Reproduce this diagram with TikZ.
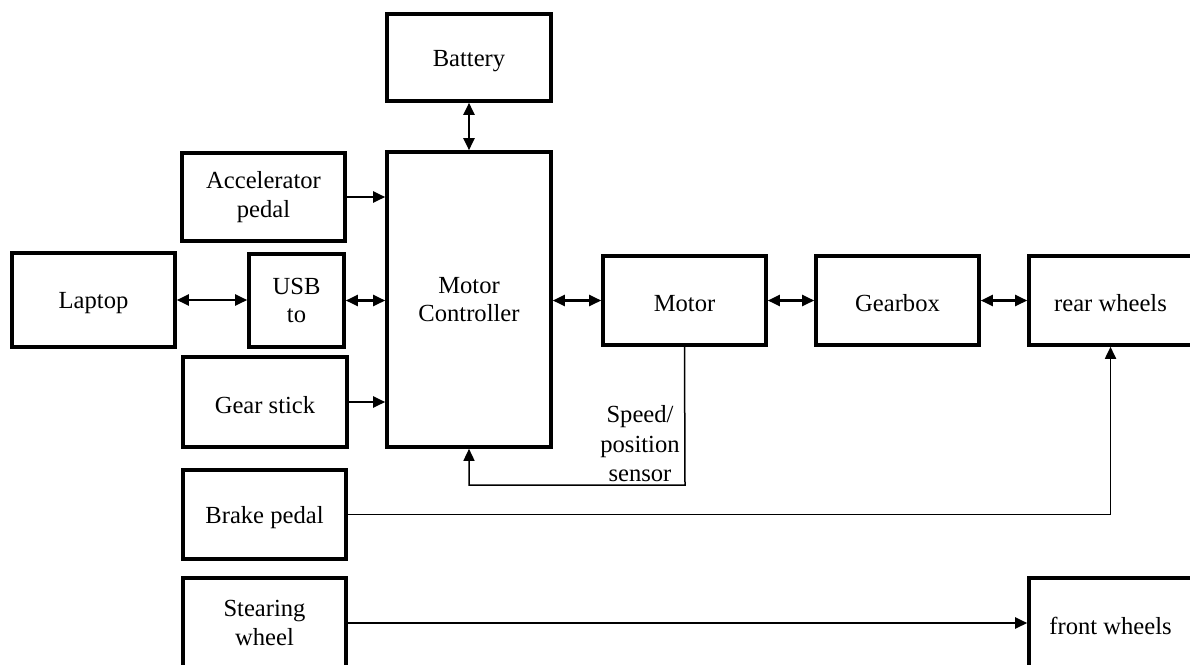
\documentclass[tikz,border=0pt]{standalone}
\usepackage{fontspec}
\setmainfont{Liberation Serif}
\usetikzlibrary{arrows.meta}
\begin{document}
\begin{tikzpicture}[x=1pt,y=-1pt,
  block/.style={draw, line width=3.6pt, align=center, inner sep=0pt,
    font=\fontsize{24.6}{28.5}\selectfont,
    execute at begin node={\rule{0pt}{23pt}}},
  tip/.tip={Triangle[length=12pt,width=11pt]},
  link/.style={line width=2.2pt, -tip},
  dlink/.style={line width=2.2pt, tip-tip},
  fine/.style={line width=1.5pt},
  lbl/.style={align=center, inner sep=0pt, font=\fontsize{24.6}{29.5}\selectfont}]
\clip (0,0) rectangle (1190,664);
\fill[white] (0,0) rectangle (1190,664);

% blocks
\node[block, minimum width=164pt, minimum height=87pt]  (bat)   at (469,57.5)   {Battery};
\node[block, minimum width=164pt, minimum height=295pt] (mc)    at (469,299.5)  {Motor\\Controller};
\node[block, minimum width=163pt, minimum height=88pt]  (acc)   at (263.5,197)  {Accelerator\\pedal};
\node[block, minimum width=95pt,  minimum height=93pt]  (usb)   at (296.5,300.5){USB\\to};
\node[block, minimum width=164pt, minimum height=90pt]  (gear)  at (265,402)    {Gear stick};
\node[block, minimum width=163pt, minimum height=94pt]  (lap)   at (93.5,300)   {Laptop};
\node[block, minimum width=163pt, minimum height=89pt]  (mot)   at (684.5,300.5){Motor};
\node[block, minimum width=163pt, minimum height=89pt]  (gbx)   at (897.5,300.5){Gearbox};
\node[block, minimum width=163pt, minimum height=89pt]  (rear)  at (1110.5,300.5){rear wheels};
\node[block, minimum width=163pt, minimum height=89pt]  (brake) at (264.5,514.5){Brake pedal};
\node[block, minimum width=163pt, minimum height=90pt]  (steer) at (264.5,623)  {Stearing\\wheel};
\node[block, minimum width=163pt, minimum height=90pt]  (front) at (1110.5,623) {front wheels};

% connectors
\draw[dlink] (bat.south) -- (mc.north);
\draw[link]  (acc.east) -- (acc.east -| mc.west);
\draw[dlink] (lap.east) -- (lap.east -| usb.west);
\draw[dlink] (usb.east) -- (usb.east -| mc.west);
\draw[link]  (gear.east) -- (gear.east -| mc.west);
\draw[dlink] (mot.west -| mc.east) -- (mot.west);
\draw[dlink] (mot.east) -- (gbx.west);
\draw[dlink] (gbx.east) -- (rear.west);

% speed / position feedback loop
\coordinate (sb) at (685,485);
\draw[fine, -tip] (mot.south) -- (sb) -- (sb -| mc.south) -- (mc.south);
\node[lbl] (sens) at (640,444) {Speed/\\position\\sensor};

% brake and steering paths
\draw[link, line width=1.8pt] (brake.east) -| (rear.south);
\draw[link] (steer.east) -- (steer.east -| front.west);
\end{tikzpicture}
\end{document}
